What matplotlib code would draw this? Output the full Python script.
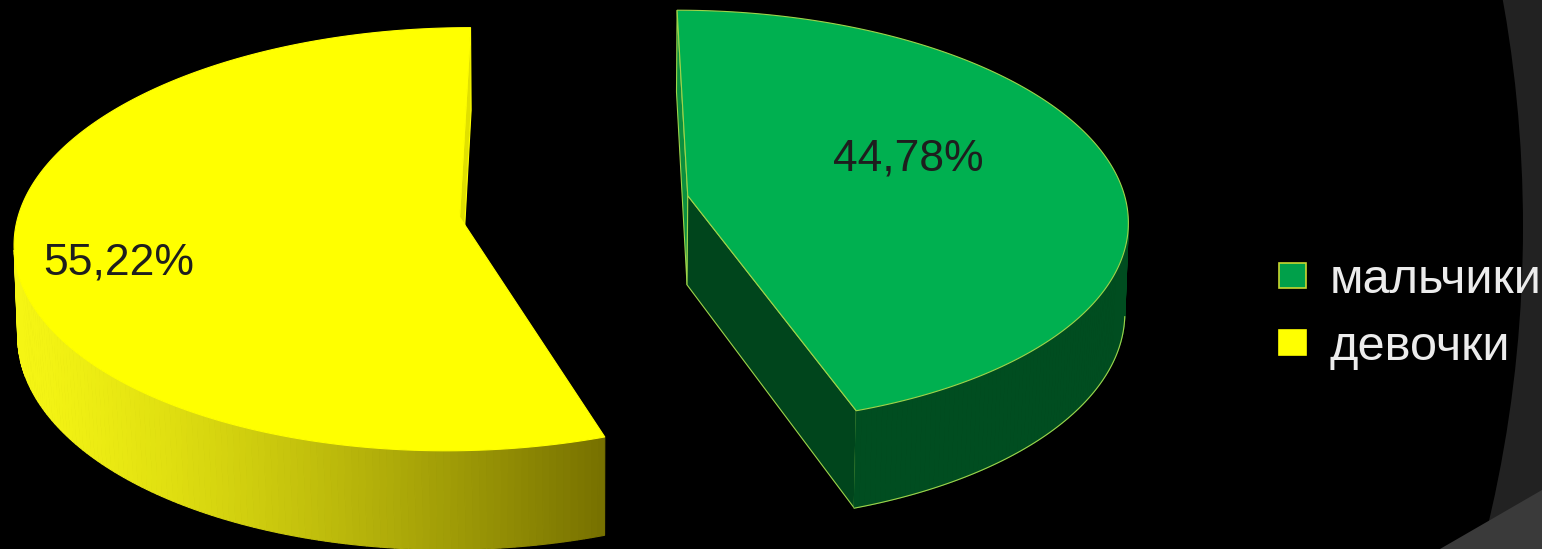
import numpy as np
import matplotlib.pyplot as plt
from matplotlib.patches import Polygon, Rectangle, Circle

# data
categories = ['мальчики', 'девочки']
shares = [44.78, 55.22]
share_labels = ['44,78%', '55,22%']

top_colors = ['#00b050', '#ffff00']
wall_colors = ['#004d20', None]          # None -> gradient (yellow)
edge_colors = ['#9fd44a', '#ffff00']

W, H = 1542, 549

# 3-d look: simple pinhole camera over a unit-radius pie
EL = 0.26346
DIST = 17.53724
SCALE = 4045.3
X0, Y0 = 574.7, -677.3
THICK = 0.226
offsets = [(0.2588, -8.5115), (-0.2608, -8.6142)]   # exploded slice centres
cam = np.array([0.0, -DIST * np.cos(EL)])


def proj(x, y, z):
    d = DIST + y * np.cos(EL) - z * np.sin(EL)
    return X0 + SCALE * x / d, Y0 - SCALE * (y * np.sin(EL) + z * np.cos(EL)) / d


def facing(px, py, nx, ny):
    return nx * (cam[0] - px) + ny * (cam[1] - py) > 0


def yellow_shade(sx):
    t = np.clip((sx - 20) / (605 - 20), 0, 1) ** 1.3
    c0 = np.array([245, 245, 20]) / 255
    c1 = np.array([118, 112, 0]) / 255
    return tuple((1 - t) * c0 + t * c1)


fig = plt.figure(figsize=(W / 100, H / 100), dpi=100)
fig.patch.set_facecolor('#222222')
ax = fig.add_axes([0, 0, 1, 1])
ax.set_xlim(0, W)
ax.set_ylim(H, 0)
ax.axis('off')

# slide decoration on the right
ax.add_patch(Circle((235, 227), 1288, facecolor='black', edgecolor='none', zorder=0))
ax.add_patch(Polygon([(1440, H), (W, 490), (W, H)], closed=True,
                     facecolor='#3a3a3a', edgecolor='none', zorder=0))

bounds = np.concatenate([[0], np.cumsum(shares)]) / np.sum(shares) * 360

for i in range(len(shares)):
    a0, a1 = np.radians(bounds[i]), np.radians(bounds[i + 1])
    ox, oy = offsets[i]
    th = np.linspace(a0, a1, 240)
    rx, ry = ox + np.sin(th), oy + np.cos(th)

    # radial faces
    for ang, (nx, ny), col in [(a0, (-np.cos(a0), np.sin(a0)), '#0b8f3e' if i == 0 else '#e0e000'),
                               (a1, (np.cos(a1), -np.sin(a1)), '#00451c' if i == 0 else '#e0e000')]:
        if facing(ox, oy, nx, ny):
            px, py = ox + np.sin(ang), oy + np.cos(ang)
            pts = [proj(ox, oy, THICK), proj(px, py, THICK), proj(px, py, 0), proj(ox, oy, 0)]
            ax.add_patch(Polygon(pts, closed=True, facecolor=col,
                                 edgecolor=edge_colors[i], linewidth=0.8, zorder=2))

    # outer wall
    vis = []
    for k in range(len(th) - 1):
        m = 0.5 * (th[k] + th[k + 1])
        if not facing(ox + np.sin(m), oy + np.cos(m), np.sin(m), np.cos(m)):
            continue
        vis.append(k)
        q = [proj(rx[k], ry[k], THICK), proj(rx[k + 1], ry[k + 1], THICK),
             proj(rx[k + 1], ry[k + 1], 0), proj(rx[k], ry[k], 0)]
        col = wall_colors[i] or yellow_shade(np.mean([p[0] for p in q]))
        ax.add_patch(Polygon(q, closed=True, facecolor=col, edgecolor=col,
                             linewidth=0.8, zorder=2))
    if i == 0 and vis:
        idx = np.array(vis + [vis[-1] + 1])
        bx, by = proj(rx[idx], ry[idx], 0)
        ax.plot(bx, by, color=edge_colors[i], linewidth=0.8, zorder=3)

    # top face
    tx, ty = proj(rx, ry, THICK)
    cx, cy = proj(ox, oy, THICK)
    top = np.column_stack([np.r_[cx, tx], np.r_[cy, ty]])
    ax.add_patch(Polygon(top, closed=True, facecolor=top_colors[i],
                         edgecolor=edge_colors[i], linewidth=0.8, zorder=4))

# value labels
label_pos = [(833, 170), (43, 275)]
for (lx, ly), txt in zip(label_pos, share_labels):
    ax.text(lx, ly, txt, ha='left', va='baseline', fontsize=32,
            family='Liberation Sans', color='#1e1e1e', zorder=5)

# legend
legend_rows = [293, 360]
for k, (name, row) in enumerate(zip(categories, legend_rows)):
    ax.add_patch(Rectangle((1279, row - 30), 27, 25, facecolor=top_colors[k] if k else '#00a04a',
                           edgecolor='#c8d830' if k == 0 else '#ffff00', linewidth=1.2, zorder=5))
    ax.text(1330, row, name, ha='left', va='baseline', fontsize=35,
            family='Liberation Sans', color='#ececec', zorder=5)

fig.savefig('out.png', dpi=100, facecolor=fig.get_facecolor())
